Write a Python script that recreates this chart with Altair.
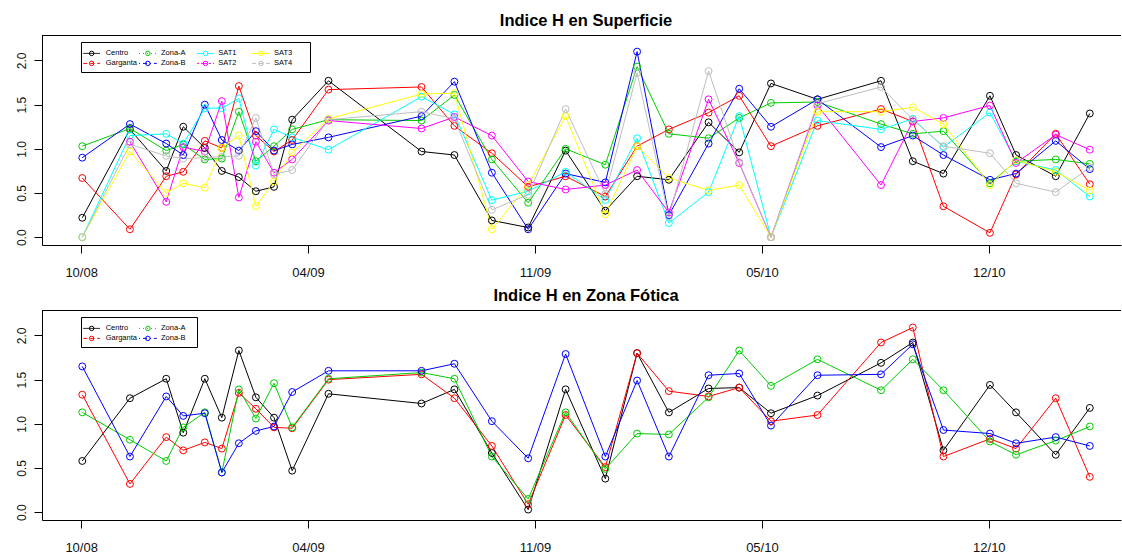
import altair as alt
import pandas as pd

# Sampling days, counted from the first labelled tick (10/08)
dias = [1, 43, 75, 90, 109, 124, 139, 154, 170, 186, 218, 300, 329, 362, 394,
        427, 462, 490, 518, 553, 580, 608, 649, 705, 733, 760, 801, 824, 859, 889]

tick_dias = [0, 200, 400, 600, 800]
tick_labels = ["10/08", "04/09", "11/09", "05/10", "12/10"]

series = ["Centro", "Garganta", "Zona-A", "Zona-B", "SAT1", "SAT2", "SAT3", "SAT4"]
colores = ["#000000", "#FF0000", "#00CD00", "#0000FF",
           "#00FFFF", "#FF00FF", "#FFFF00", "#BEBEBE"]
trazos = [[1, 0], [4, 3], [1, 3], [1, 3, 4, 3], [7, 3], [2, 2, 6, 2], [1, 0], [4, 3]]

# Indice H en superficie
sup_centro = [0.22, 1.22, 0.75, 1.25, 1.01, 0.75, 0.68, 0.52, 0.57, 1.33, 1.77, 0.97, 0.93, 0.19, 0.11,
              0.98, 0.30, 0.69, 0.65, 1.30, 0.96, 1.74, 1.56, 1.77, 0.86, 0.72, 1.60, 0.93, 0.69, 1.40]
sup_garganta = [0.67, 0.09, 0.69, 0.74, 1.09, 1.01, 1.71, 1.15, 0.97, 1.10, 1.67, 1.70, 1.26, 0.95, 0.57,
                0.69, 0.46, 1.03, 1.22, 1.41, 1.60, 1.03, 1.26, 1.45, 1.31, 0.35, 0.05, 0.71, 1.17, 0.60]
sup_zona_a = [1.03, 1.23, 0.98, 1.05, 0.88, 0.89, 1.42, 0.86, 1.03, 1.22, 1.33, 1.32, 1.61, 0.88, 0.39,
              1.00, 0.82, 1.93, 1.17, 1.12, 1.35, 1.52, 1.53, 1.28, 1.17, 1.20, 0.61, 0.86, 0.88, 0.83]
sup_zona_b = [0.90, 1.28, 1.06, 0.93, 1.50, 1.10, 0.98, 1.20, 0.98, 1.05, 1.13, 1.37, 1.76, 0.73, 0.09,
              0.72, 0.62, 2.10, 0.25, 1.06, 1.68, 1.25, 1.56, 1.02, 1.15, 0.93, 0.65, 0.72, 1.09, 0.77]
sup_sat1 = [0.00, 1.15, 1.17, 1.06, 1.46, 1.46, 1.57, 0.81, 1.22, 1.13, 0.99, 1.59, 1.39, 0.42, 0.52,
            0.74, 0.42, 1.12, 0.16, 0.51, 1.37, 0.00, 1.32, 1.22, 1.34, 1.02, 1.41, 0.86, 0.76, 0.46]
sup_sat2 = [None, 1.08, 0.40, 1.02, 0.97, 1.54, 0.45, 1.08, 0.73, 0.88, 1.32, 1.23, 1.36, 1.15, 0.63,
            0.54, 0.59, 0.76, 0.28, 1.56, 0.84, 0.00, 1.49, 0.59, 1.31, 1.35, 1.49, 0.84, 1.16, 0.99]
sup_sat3 = [0.00, 0.97, 0.50, 0.61, 0.56, 1.01, 1.15, 0.35, 0.63, 0.96, 1.34, 1.62, 1.63, 0.09, 0.59,
            1.37, 0.26, 1.03, 0.67, 0.53, 0.59, 0.00, 1.42, 1.42, 1.47, 1.28, 0.59, 0.87, 0.74, 0.53]
sup_sat4 = [0.00, 1.05, 0.92, 0.89, 0.90, 0.91, 0.92, 1.35, 0.71, 0.76, 1.33, 1.42, 1.34, 0.31, 0.48,
            1.45, 0.49, 1.86, 0.23, 1.88, 0.85, 0.00, 1.51, 1.70, 1.33, 1.03, 0.95, 0.61, 0.51, 0.79]

# Indice H en zona fotica
fot_centro = [0.58, 1.29, 1.51, 0.90, 1.51, 1.07, 1.83, 1.30, 1.07, 0.47, 1.34, 1.23, 1.39, 0.67, 0.03,
              1.39, 0.38, 1.80, 1.13, 1.40, 1.41, 1.12, 1.32, 1.69, 1.92, 0.70, 1.44, 1.13, 0.65, 1.18]
fot_garganta = [1.33, 0.32, 0.85, 0.70, 0.79, 0.72, 1.35, 1.17, 0.96, 0.95, 1.50, 1.56, 1.29, 0.75, 0.09,
                1.10, 0.51, 1.80, 1.37, 1.31, 1.41, 1.03, 1.10, 1.92, 2.09, 0.63, 0.83, 0.72, 1.29, 0.40]
fot_zona_a = [1.13, 0.82, 0.58, 0.96, 1.13, 0.45, 1.39, 1.06, 1.46, 0.96, 1.51, 1.58, 1.51, 0.63, 0.15,
              1.13, 0.49, 0.89, 0.88, 1.30, 1.83, 1.43, 1.73, 1.38, 1.73, 1.38, 0.80, 0.65, 0.81, 0.97]
fot_zona_b = [1.65, 0.63, 1.31, 1.09, 1.12, 0.45, 0.78, 0.92, 0.97, 1.36, 1.60, 1.60, 1.68, 1.03, 0.61,
              1.79, 0.63, 1.49, 0.63, 1.55, 1.57, 0.98, 1.55, 1.56, 1.90, 0.93, 0.89, 0.78, 0.85, 0.75]

superficie = dict(zip(series, [sup_centro, sup_garganta, sup_zona_a, sup_zona_b,
                               sup_sat1, sup_sat2, sup_sat3, sup_sat4]))
fotica = dict(zip(series[:4], [fot_centro, fot_garganta, fot_zona_a, fot_zona_b]))

# Layout (pixels)
W, H = 1079, 210
FONT = "Liberation Sans"
X_DOMAIN = [-34.5, 916.5]
Y_DOMAIN = [-0.088, 2.288]
LEG_X1 = [41.3, 97.0, 155.0, 210.0]
LEG_X2 = [58.0, 114.7, 172.0, 228.0]
LEG_XT = [63.7, 119.0, 176.3, 232.0]
LEG_Y = [18.4, 28.4]

label_expr = " : ".join(
    f"datum.value == {d} ? '{t}'" for d, t in zip(tick_dias, tick_labels)
) + " : ''"

x_scale = alt.Scale(domain=X_DOMAIN, nice=False, zero=False)
y_scale = alt.Scale(domain=Y_DOMAIN, nice=False, zero=False)
color_scale = alt.Scale(domain=series, range=colores)
dash_scale = alt.Scale(domain=series, range=trazos)

x_axis = alt.Axis(values=tick_dias, labelExpr=label_expr, title=None, grid=False,
                  tickSize=8, tickColor="black", domainColor="black",
                  labelPadding=23, labelBaseline="alphabetic", labelFontSize=13,
                  labelFont=FONT, labelColor="#111", labelFlush=False, labelOverlap=False)
y_axis = alt.Axis(values=[0, 0.5, 1, 1.5, 2], format=".1f", title=None, grid=False,
                  tickSize=8, tickColor="black", domainColor="black",
                  labelAngle=270, labelAlign="center", labelBaseline="alphabetic",
                  labelPadding=9, labelFontSize=12, labelFont=FONT, labelColor="#111")


def panel(datos, titulo, caja_x2, ancla=False):
    filas = []
    for nombre, valores in datos.items():
        for d, v in zip(dias, valores):
            if v is not None:
                filas.append({"dia": d, "valor": v, "serie": nombre})
    df = pd.DataFrame(filas)

    nombres = list(datos.keys())
    leg = pd.DataFrame({
        "serie": nombres,
        "x1": [LEG_X1[i // 2] for i in range(len(nombres))],
        "x2": [LEG_X2[i // 2] for i in range(len(nombres))],
        "xt": [LEG_XT[i // 2] for i in range(len(nombres))],
        "y": [LEG_Y[i % 2] for i in range(len(nombres))],
    })
    leg["xc"] = (leg["x1"] + leg["x2"]) / 2

    color = alt.Color("serie:N", scale=color_scale, legend=None)
    uno = pd.DataFrame({"t": [titulo]})

    borde = alt.Chart(uno).mark_rule(color="black", strokeWidth=1).encode(
        x=alt.value(0), x2=alt.value(W), y=alt.value(0.5))

    lineas = alt.Chart(df).mark_line(strokeWidth=1).encode(
        x=alt.X("dia:Q", scale=x_scale, axis=x_axis),
        y=alt.Y("valor:Q", scale=y_scale, axis=y_axis),
        color=color)

    puntos = alt.Chart(df).mark_point(shape="circle", filled=False, size=48,
                                      strokeWidth=1, opacity=1).encode(
        x=alt.X("dia:Q", scale=x_scale, axis=None),
        y=alt.Y("valor:Q", scale=y_scale, axis=None),
        color=color)

    caja = alt.Chart(uno).mark_rect(fill="white", stroke="black", strokeWidth=1).encode(
        x=alt.value(39.5), x2=alt.value(caja_x2), y=alt.value(7.5), y2=alt.value(37.5))

    leg_lineas = alt.Chart(leg).mark_rule(strokeWidth=1).encode(
        x=alt.X("x1:Q", scale=None, axis=None), x2="x2:Q",
        y=alt.Y("y:Q", scale=None, axis=None),
        color=color,
        strokeDash=alt.StrokeDash("serie:N", scale=dash_scale, legend=None))

    leg_puntos = alt.Chart(leg).mark_point(shape="circle", filled=False, size=20,
                                           strokeWidth=1, opacity=1).encode(
        x=alt.X("xc:Q", scale=None, axis=None),
        y=alt.Y("y:Q", scale=None, axis=None),
        color=color)

    leg_texto = alt.Chart(leg).mark_text(align="left", baseline="middle", fontSize=7.5,
                                         font=FONT, color="black").encode(
        x=alt.X("xt:Q", scale=None, axis=None),
        y=alt.Y("y:Q", scale=None, axis=None),
        text="serie:N")

    titulo_txt = alt.Chart(uno).mark_text(align="center", baseline="alphabetic",
                                          fontSize=16.5, fontWeight="bold", font=FONT,
                                          color="black").encode(
        x=alt.value(544), y=alt.value(-9.5), text="t:N")

    capas = [borde, lineas, puntos, caja, leg_lineas, leg_puntos, leg_texto, titulo_txt]
    if ancla:
        # invisible corner that pins the plot origin on the page
        capas.append(alt.Chart(uno).mark_rule(strokeWidth=0.001, opacity=0).encode(
            x=alt.value(-42), x2=alt.value(-42), y=alt.value(-35), y2=alt.value(-34)))

    return alt.layer(*capas).resolve_scale(x="independent", y="independent").properties(
        width=W, height=H)


arriba = panel(superficie, "Indice H en Superficie", 268.5, ancla=True)
abajo = panel(fotica, "Indice H en Zona Fótica", 155.5)

chart = alt.vconcat(arriba, abajo, spacing=65, bounds="flush").properties(
    padding=0, background="white"
).configure_view(stroke=None)

chart.save("out.html", embed_options={"renderer": "svg", "actions": False})
